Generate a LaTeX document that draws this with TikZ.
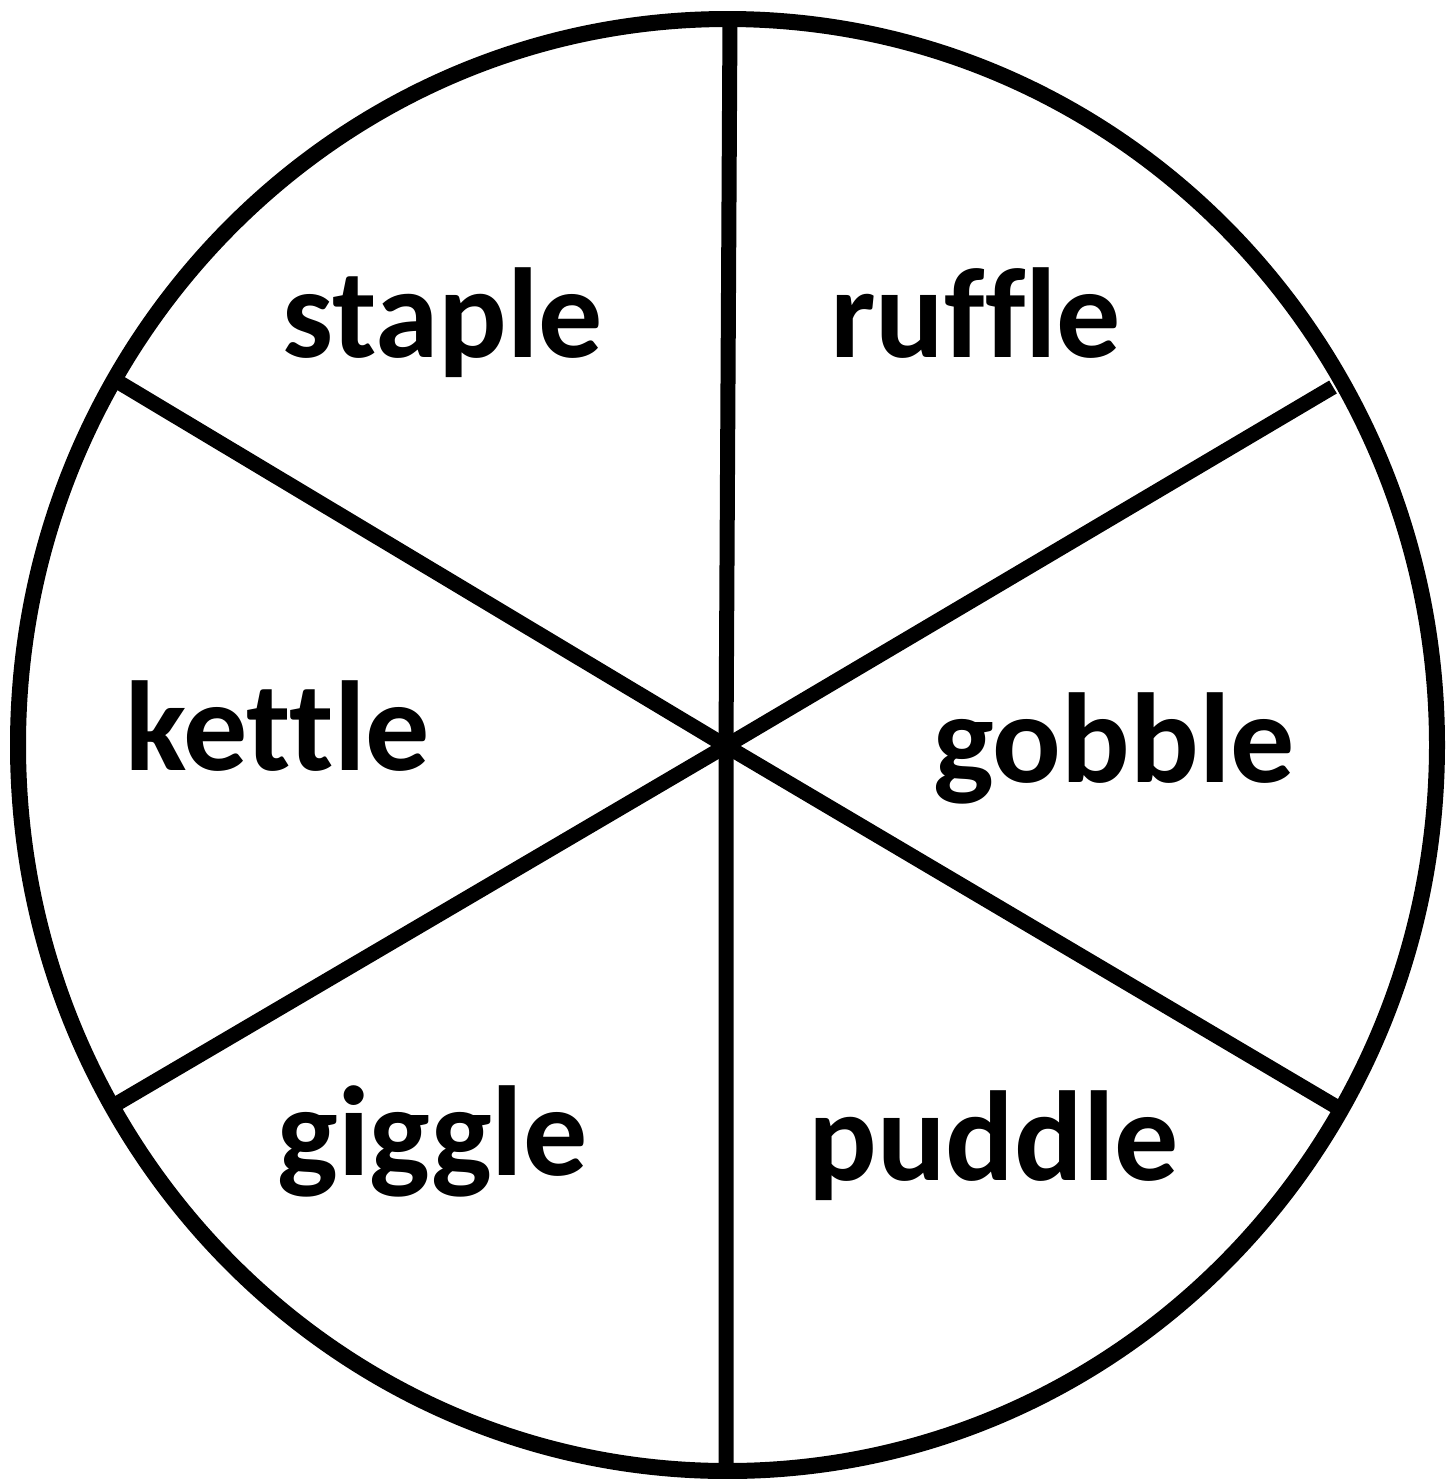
\documentclass[tikz,border=0pt]{standalone}
\usepackage{fontspec}
\setmainfont{Carlito}[Ligatures={NoCommon,NoRare,NoContextual}]
\begin{document}
\begin{tikzpicture}[x=0.5pt,y=-0.5pt,
  rim/.style={line width=8pt},
  spoke/.style={line width=7.5pt},
  word/.style={anchor=base west,inner sep=0pt,font=\fontsize{64}{76}\selectfont\bfseries}]
\useasboundingbox (0,0) rectangle (1453,1479);
\coordinate (c) at (726,746);
\draw[rim] (727.5,745) ellipse [x radius=709.5, y radius=726];
\coordinate (t) at (730,19);
\coordinate (b) at (726,1471);
\coordinate (ul) at (120,383);
\coordinate (ur) at (1333,387);
\coordinate (ll) at (118,1103);
\coordinate (lr) at (1335,1106);
\draw[spoke] (t) -- (c) -- (b);
\draw[spoke] (ul) -- (c) -- (lr);
\draw[spoke] (ur) -- (c) -- (ll);
\node[word] (w1) at (282,357) {staple};
\node[word] (w2) at (830,357) {ruffle};
\node[word] (w3) at (125,770) {kettle};
\node[word] (w4) at (933,782) {gobble};
\node[word] (w5) at (277,1175) {giggle};
\node[word] (w6) at (808,1180) {puddle};
\end{tikzpicture}
\end{document}
